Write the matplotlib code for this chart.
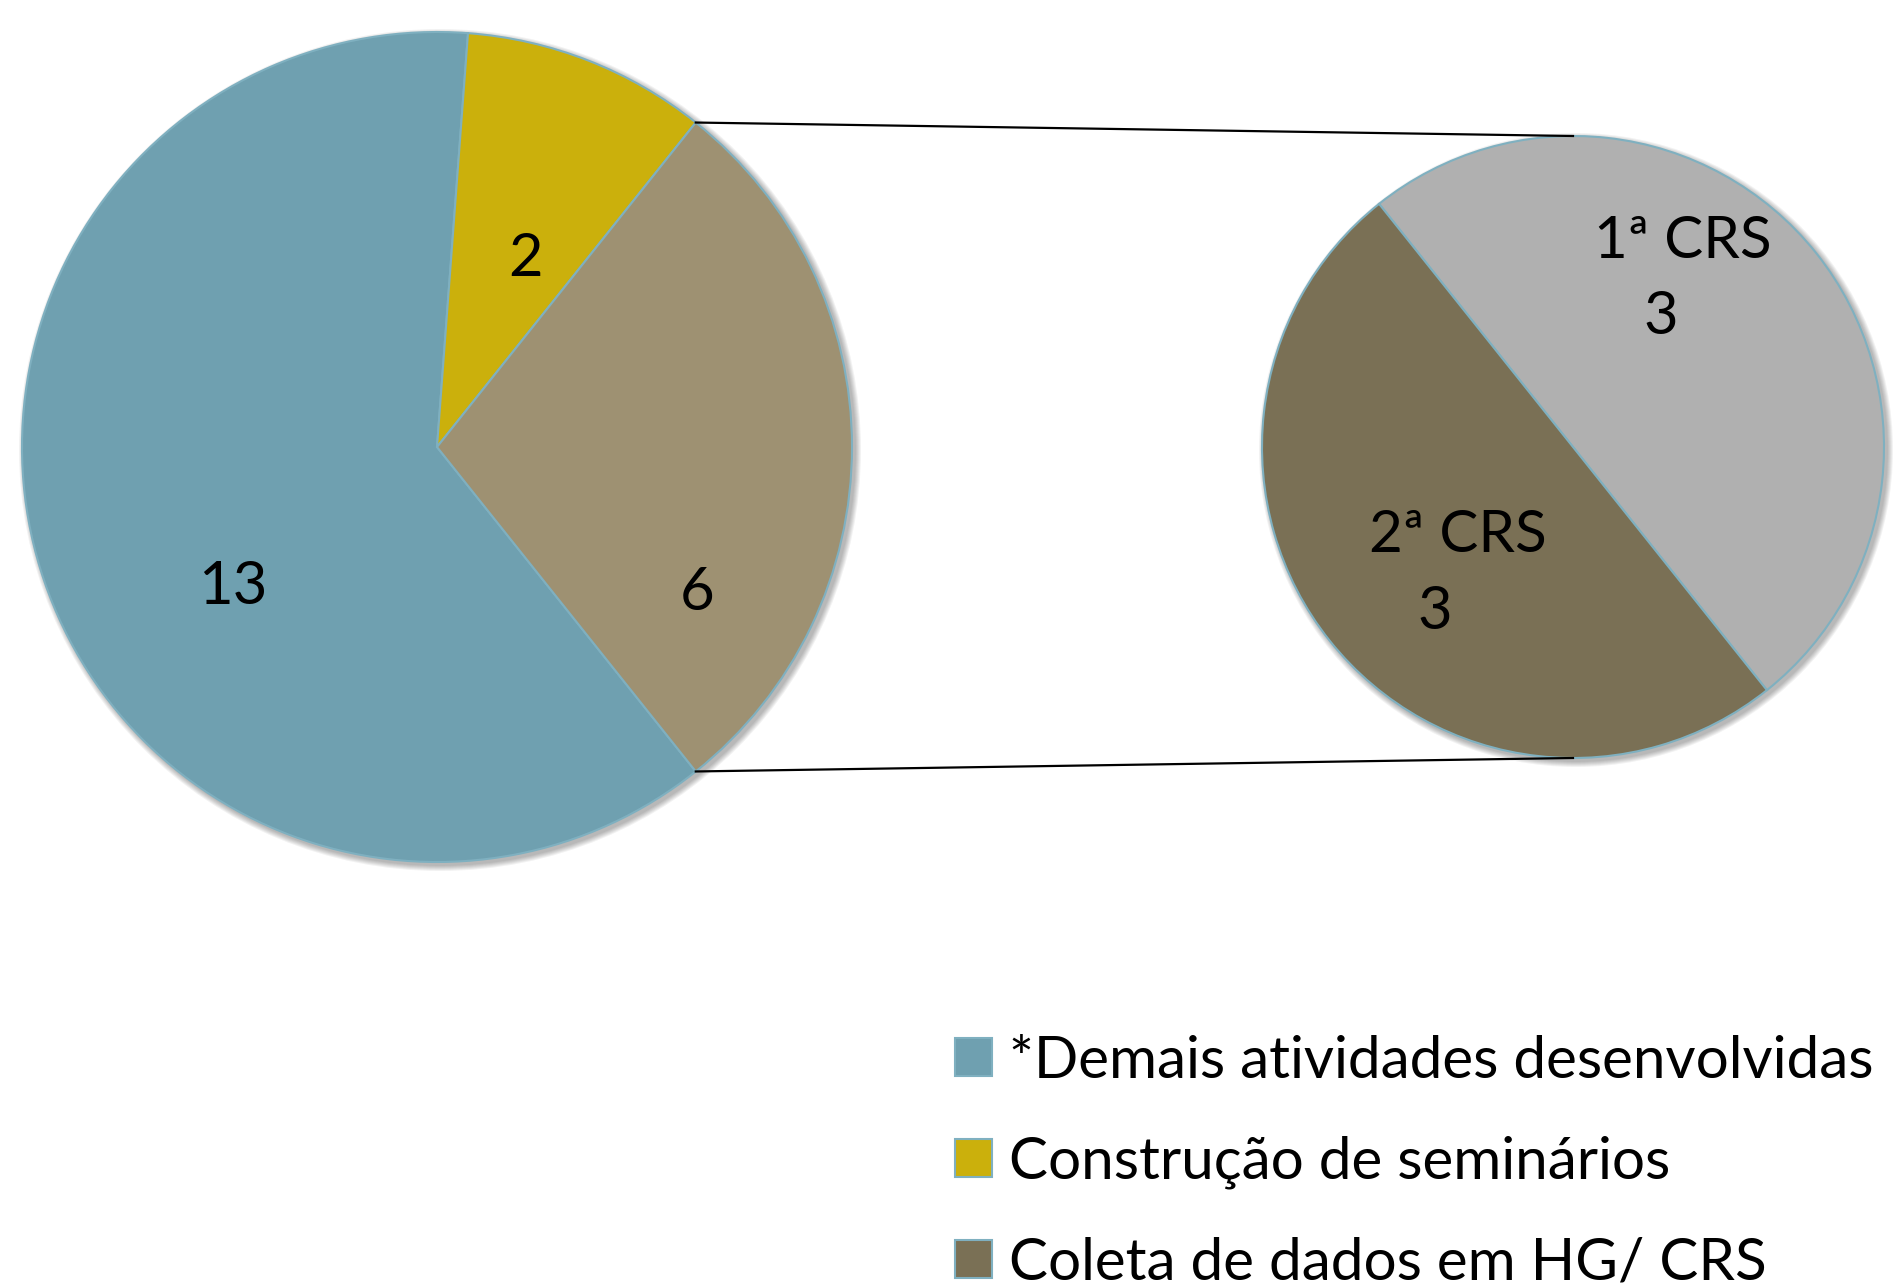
import numpy as np
import matplotlib
matplotlib.use("Agg")
import matplotlib.pyplot as plt
from matplotlib.patches import Circle, Patch

plt.rcParams['font.family'] = ['Lato', 'DejaVu Sans']

# ---- data ----
categories = ["*Demais atividades desenvolvidas", "Construção de seminários", "Coleta de dados em HG/ CRS"]
values = [13, 2, 6]
colors = ["#6fa0b0", "#cbb00c", "#9e9172"]
legend_colors = ["#6fa0b0", "#cbb00c", "#7a7055"]

sub_labels = ["1ª CRS", "2ª CRS"]
sub_values = [3, 3]
sub_colors = ["#b0b0b0", "#7a7055"]

W, H = 1894, 1287
fig = plt.figure(figsize=(W / 100, H / 100), dpi=100)
ax = fig.add_axes([0, 0, 1, 1])

c_main = (437, 840)
r_main = 415
c_sub = (1573, 840)
r_sub = 311

edge = "#7fb0c0"
half = 360 * values[2] / sum(values) / 2

# soft shadows
for k in range(6):
    for (c, r) in [(c_main, r_main), (c_sub, r_sub)]:
        ax.add_patch(Circle((c[0] + 3, c[1] - 3), r + 1 + k, color='black',
                            alpha=0.05, lw=0, zorder=0))

wedges, _ = ax.pie(values, colors=colors, startangle=-half, counterclock=False,
                   center=c_main, radius=r_main, frame=True,
                   wedgeprops=dict(edgecolor=edge, linewidth=1.5))
sub_wedges, _ = ax.pie(sub_values, colors=sub_colors, startangle=-half, counterclock=True,
                       center=c_sub, radius=r_sub, frame=True,
                       wedgeprops=dict(edgecolor=edge, linewidth=1.5))
ax.set_xlim(0, W)
ax.set_ylim(0, H)
ax.set_aspect('equal')
ax.axis('off')

# connector lines
w_col = wedges[2]
for ang, sy in [(w_col.theta2, 1), (w_col.theta1, -1)]:
    x0 = c_main[0] + r_main * np.cos(np.radians(ang))
    y0 = c_main[1] + r_main * np.sin(np.radians(ang))
    ax.plot([x0, c_sub[0]], [y0, c_sub[1] + sy * r_sub], color='black', lw=1.6, zorder=1)

fs = 43
ax.text(525, 1028, str(values[1]), fontsize=fs, ha='center', va='center')
ax.text(233, 700, str(values[0]), fontsize=fs, ha='center', va='center')
ax.text(697, 694, str(values[2]), fontsize=fs, ha='center', va='center')

ax.text(1683, 1045, sub_labels[0], fontsize=fs - 1, ha='center', va='center')
ax.text(1661, 970, str(sub_values[0]), fontsize=fs, ha='center', va='center')
ax.text(1458, 752, sub_labels[1], fontsize=fs - 1, ha='center', va='center')
ax.text(1435, 675, str(sub_values[1]), fontsize=fs, ha='center', va='center')

handles = [Patch(facecolor=c, edgecolor=edge, linewidth=1.5) for c in legend_colors]
leg = fig.legend(handles, categories, loc='lower left', bbox_to_anchor=(932 / W, -26 / H),
                 frameon=False, fontsize=42, handlelength=0.62, handleheight=0.62,
                 handletextpad=0.3, labelspacing=0.82, borderaxespad=0)

fig.savefig("out.png", dpi=100)
